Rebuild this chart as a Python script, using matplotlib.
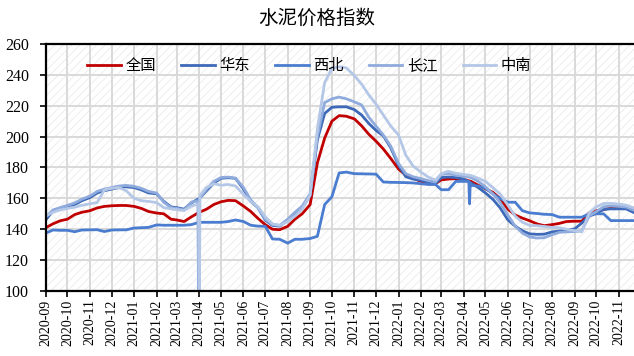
import matplotlib
matplotlib.use("Agg")
import matplotlib.pyplot as plt
import matplotlib.dates as mdates
from matplotlib.patches import Rectangle
import pandas as pd

plt.rcParams['hatch.linewidth'] = 0.6

# ---------------- data ----------------
title = "水泥价格指数"
series_names = ["全国", "华东", "西北", "长江", "中南"]
colors = ["#C00000", "#3D69B8", "#4A7CD0", "#8FAADC", "#B4C7E7"]

# sampling dates: 1st, 11th, 21st of each month, 2020-09 .. 2022-11
months = pd.period_range("2020-09", "2022-11", freq="M")
grid_dates = [pd.Timestamp(p.year, p.month, d) for p in months for d in (1, 11, 21)]

quanguo = [141, 143.5, 145.5, 146.5, 149.5, 151, 152, 153.8, 154.8, 155.2, 155.4, 155.4,
           154.8, 153.5, 151.5, 150.5, 150, 146.5, 146, 145, 148, 151, 153, 156,
           157.8, 158.7, 158.5, 155, 151.5, 147, 143, 140, 139.7, 141.9, 146.5, 150,
           156, 183, 199, 210, 213.6, 213.2, 211.5, 207, 201.5, 197, 192, 186,
           179, 175, 173, 171, 170, 169.5, 172, 172.5, 172.8, 172.3, 171, 168.5,
           166.2, 164, 160, 153, 149.2, 147.2, 145.5, 143.5, 142.3, 143, 143.8, 145,
           145.2, 145.2, 150.5, 152, 152.7, 154, 154.3, 153.8, 152]

huadong = [146, 152, 153.5, 155, 156, 158.5, 160.5, 163.5, 165, 166, 167, 167.5,
           167, 165.5, 163.5, 163, 158, 154.5, 154, 153, 157, 160, 165, 170,
           173, 173.4, 173, 166, 158, 154, 146, 142.5, 142, 146, 150.5, 154,
           162, 198, 215, 219, 219.3, 219.3, 217.5, 214, 208.5, 204, 200.5, 193,
           181.5, 174, 172.5, 171.7, 170.5, 169.5, 173.5, 173.8, 173.5, 172.5, 170, 167,
           163.5, 159.5, 154, 146, 142, 139, 137, 136.7, 136.8, 138.3, 138.8, 139.4,
           140.2, 144, 148.5, 150.2, 152.8, 153.2, 153.2, 153.2, 151]

xibei = [137.5, 139.5, 139.3, 139.3, 138.4, 139.5, 139.6, 139.7, 138.5, 139.5, 139.6, 139.6,
         140.8, 141, 141.2, 142.8, 142.6, 142.6, 142.6, 142.6, 143, 144.5, 144.5, 144.5,
         144.5, 145, 146, 145, 142.6, 142, 141.9, 133.7, 133.5, 131, 133.5, 133.5,
         134, 135.4, 156, 161, 176.5, 177, 176, 175.9, 175.8, 175.7, 170.6, 170.4,
         170.3, 170.2, 170, 169.5, 169, 169, 165.6, 165.6, 171, 171, 168.5, 168,
         166.5, 163, 160, 157.5, 157.5, 152, 150.6, 150.2, 149.7, 149.5, 147.8, 147.8,
         147.8, 147.8, 150, 150, 150, 145.6, 145.6, 145.6, 145.6]

changjiang = [148, 152.5, 154, 155.5, 157, 159.5, 161.5, 164.5, 166, 167, 168, 168.4,
              167.8, 166.5, 164.5, 163.5, 157.5, 154, 153.5, 152.5, 157.5, 160, 166, 171,
              173.5, 173.8, 173, 167, 159, 154, 146.5, 143, 142.5, 146.5, 151, 155,
              163, 200, 222, 224.5, 225.6, 224.5, 222.5, 220.5, 212.5, 206.8, 201, 194,
              182.6, 176, 174, 172.8, 171.5, 170.6, 175.5, 176, 175, 174.5, 173.5, 171,
              167.5, 163, 157.5, 149, 142, 137.5, 135, 134.3, 134.5, 136.5, 138, 138.3,
              138.5, 139, 148.5, 151.5, 154.5, 155.2, 154.8, 154.4, 152.5]

zhongnan = [148.5, 151, 152.5, 153.5, 154.3, 155.5, 156.5, 157.3, 165.5, 166.5, 167, 165,
            160, 158.5, 158, 157.3, 154, 153.2, 152.7, 152.1, 155, 92, 167, 169.5,
            168.5, 169, 168, 162.5, 158, 154.5, 148, 143.5, 142.5, 145, 148.5, 153,
            162, 205, 235, 244, 245.3, 244.5, 239.5, 234, 227, 221, 214, 207,
            201, 188, 181, 177, 173.8, 171.8, 176, 177.5, 176.2, 175.5, 174.8, 173,
            171, 167, 163, 155.5, 148.5, 144.5, 142.5, 142.3, 141.8, 141.2, 141, 140,
            139.1, 138.3, 150.5, 154.5, 156.7, 156.8, 156.3, 155.6, 154]

# short-lived irregular points (spike in early April 2021, dip in April 2022)
changjiang_extra_dates = ["2021-03-30", "2021-03-31"]
changjiang_extra_vals = [158.5, 92]
zhongnan_extra_dates = ["2021-03-31", "2021-04-02"]
zhongnan_extra_vals = [156.5, 162]
xibei_extra_dates = ["2022-04-08", "2022-04-09", "2022-04-10"]
xibei_extra_vals = [171, 156.5, 170]

y_ticks = [100, 120, 140, 160, 180, 200, 220, 240, 260]


def build(vals, extra_dates=(), extra_vals=()):
    s = pd.Series(vals, index=grid_dates)
    if len(extra_dates):
        e = pd.Series(extra_vals, index=pd.to_datetime(list(extra_dates)))
        s = pd.concat([s, e]).sort_index()
    return s


series = [
    build(quanguo),
    build(huadong),
    build(xibei, xibei_extra_dates, xibei_extra_vals),
    build(changjiang, changjiang_extra_dates, changjiang_extra_vals),
    build(zhongnan, zhongnan_extra_dates, zhongnan_extra_vals),
]

# ---------------- figure ----------------
cjk = ["Noto Sans CJK SC", "DejaVu Sans"]
serif = "Liberation Serif"

fig = plt.figure(figsize=(6.34, 3.56), dpi=100)
ax = fig.add_axes([0.0721, 0.1826, 0.9279, 0.6938])
ax.set_facecolor("white")

# hatched plot background
ax.add_patch(Rectangle((0, 0), 1, 1, transform=ax.transAxes, facecolor="white",
                       edgecolor="#ebebeb", hatch="////", lw=0, zorder=0.1))

for s, name, c in zip(series, series_names, colors):
    ax.plot(s.index, s.values, color=c, lw=2.0, label=name, zorder=2,
            solid_joinstyle="round")

ax.set_ylim(100, 260)
ax.set_yticks(y_ticks)
ax.set_xlim(pd.Timestamp("2020-09-01"), pd.Timestamp("2022-11-22"))
ax.xaxis.set_major_locator(mdates.MonthLocator())
ax.xaxis.set_major_formatter(mdates.DateFormatter("%Y-%m"))

ax.grid(True, color="#d9d9d9", lw=1.4, zorder=0.5)
ax.set_axisbelow(True)

for side in ["left", "bottom", "top"]:
    ax.spines[side].set_linewidth(1.6)
    ax.spines[side].set_color("black")
ax.spines["right"].set_visible(False)

ax.tick_params(axis="x", direction="out", length=4, width=1.2, labelsize=10,
               labelrotation=90, pad=2)
ax.tick_params(axis="y", direction="out", length=4, width=1.2, labelsize=11.5, pad=8)
for lab in ax.get_xticklabels() + ax.get_yticklabels():
    lab.set_fontfamily(serif)

fig.text(0.5, 0.948, title, ha="center", va="center", fontsize=14, family=cjk)

leg = ax.legend(loc="center", bbox_to_anchor=(0.448, 0.911), ncol=5, frameon=False,
                prop={"family": cjk, "size": 11}, handlelength=2.2,
                handletextpad=0.3, columnspacing=1.65)

fig.savefig("out.png", dpi=100)
